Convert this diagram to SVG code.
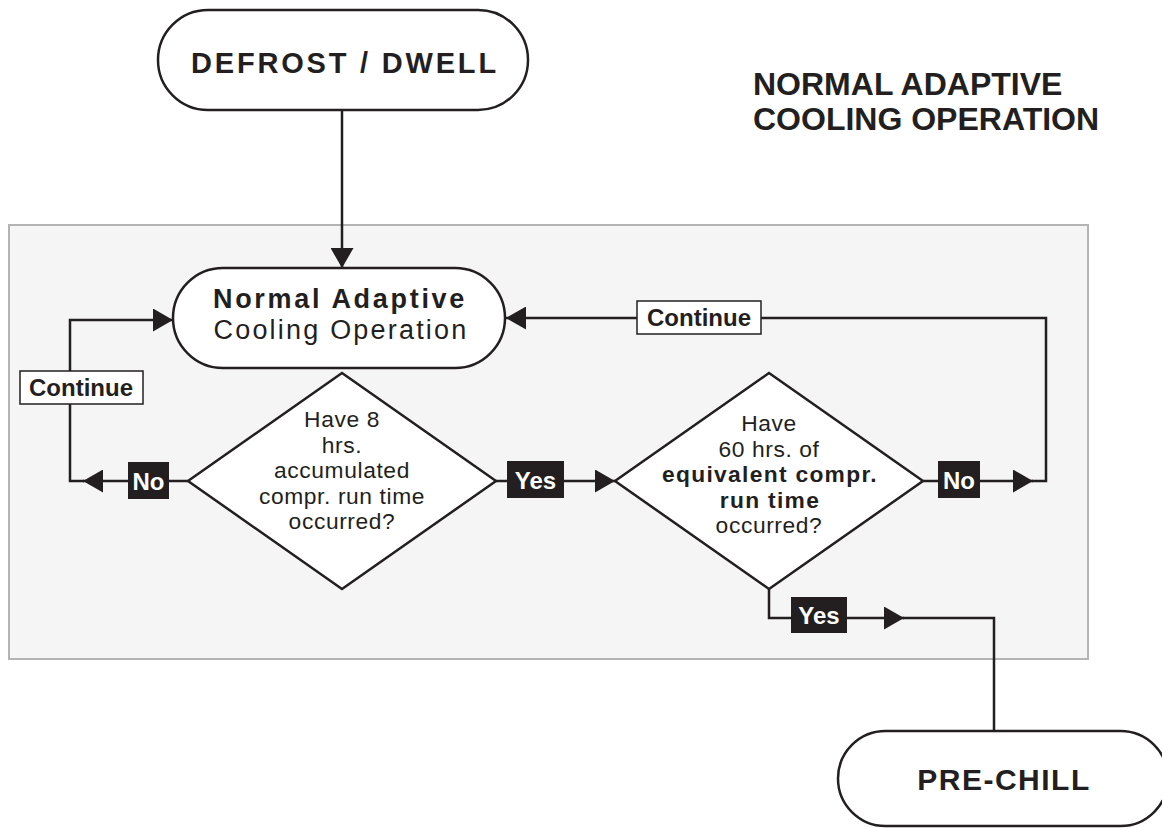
<svg xmlns="http://www.w3.org/2000/svg" width="1162" height="828" viewBox="0 0 1162 828">
<style>
  .shape{fill:#fff;stroke:#231f20;stroke-width:2.5}
  .ln{fill:none;stroke:#231f20;stroke-width:2.5}
  .t{font-family:"Liberation Sans",Arial,sans-serif;fill:#231f20;text-anchor:middle}
  .b{font-weight:bold}
  .q{font-size:22.8px;letter-spacing:0.6px}
  .qb{font-size:22.8px;font-weight:bold;letter-spacing:1.3px}
  .lbl{fill:#fff;stroke:#231f20;stroke-width:1.5}
  .tag{fill:#231f20}
  .tagt{font-family:"Liberation Sans",Arial,sans-serif;font-weight:bold;font-size:24px;fill:#fff;text-anchor:middle}
</style>
<defs>
  <marker id="arr" viewBox="0 0 20 23" refX="20" refY="11.5" markerWidth="20" markerHeight="23" markerUnits="userSpaceOnUse" orient="auto">
    <path d="M0,0 L20,11.5 L0,23 z" fill="#231f20"/>
  </marker>
</defs>
<rect id="panel" x="9" y="225" width="1079" height="434" fill="#f5f5f5" stroke="#b4b4b4" stroke-width="2"/>
<g id="title">
  <text class="t b" x="753" y="95" font-size="32" style="text-anchor:start">NORMAL ADAPTIVE</text>
  <text class="t b" x="753" y="130" font-size="32" style="text-anchor:start">COOLING OPERATION</text>
</g>
<g id="connectors">
  <path class="ln" d="M342,110 V268" marker-end="url(#arr)"/>
  <path class="ln" d="M188,481 H83" marker-end="url(#arr)"/>
  <path class="ln" d="M84,481 H70 V320 H173" marker-end="url(#arr)"/>
  <path class="ln" d="M496,481 H615" marker-end="url(#arr)"/>
  <path class="ln" d="M923,481 H1033" marker-end="url(#arr)"/>
  <path class="ln" d="M1032,481 H1046 V318 H506" marker-end="url(#arr)"/>
  <path class="ln" d="M769,589 V618 H904" marker-end="url(#arr)"/>
  <path class="ln" d="M903,618 H994 V731"/>
</g>
<g id="defrost">
  <rect class="shape" x="158" y="10" width="370" height="100" rx="50"/>
  <text class="t b" x="345" y="73" font-size="29" letter-spacing="2.8">DEFROST / DWELL</text>
</g>
<g id="normal">
  <rect class="shape" x="173" y="268" width="332" height="100" rx="50"/>
  <text class="t b" x="340" y="308" font-size="27" letter-spacing="2.7">Normal Adaptive</text>
  <text class="t" x="341" y="339" font-size="27" letter-spacing="2.2">Cooling Operation</text>
</g>
<g id="decision1">
  <polygon class="shape" points="342,373 496,481 342,589 188,481"/>
  <text class="t q" x="342" y="427">Have 8</text>
  <text class="t q" x="342" y="452.5">hrs.</text>
  <text class="t q" x="342" y="478">accumulated</text>
  <text class="t q" x="342" y="503.5">compr. run time</text>
  <text class="t q" x="342" y="529">occurred?</text>
</g>
<g id="decision2">
  <polygon class="shape" points="769,373 923,481 769,589 615,481"/>
  <text class="t q" x="769" y="431">Have</text>
  <text class="t q" x="769" y="456.5">60 hrs. of</text>
  <text class="t qb" x="770" y="482">equivalent compr.</text>
  <text class="t qb" x="770" y="507.5">run time</text>
  <text class="t q" x="769" y="533">occurred?</text>
</g>
<g id="prechill">
  <rect class="shape" x="838" y="731" width="330" height="95" rx="47.5"/>
  <text class="t b" x="1004" y="790" font-size="30" letter-spacing="1.5">PRE-CHILL</text>
</g>
<g id="labels">
  <g id="lbl-continue-left">
    <rect class="lbl" x="20" y="371" width="123" height="33"/>
    <text class="t b" x="81" y="396" font-size="24">Continue</text>
  </g>
  <g id="lbl-continue-top">
    <rect class="lbl" x="637" y="301" width="124" height="33"/>
    <text class="t b" x="699" y="326" font-size="24">Continue</text>
  </g>
  <g id="lbl-no-left">
    <rect class="tag" x="128" y="462" width="41" height="37"/>
    <text class="tagt" x="148.5" y="490">No</text>
  </g>
  <g id="lbl-yes-mid">
    <rect class="tag" x="507" y="461" width="57" height="37"/>
    <text class="tagt" x="535.5" y="489">Yes</text>
  </g>
  <g id="lbl-no-right">
    <rect class="tag" x="938" y="461" width="42" height="37"/>
    <text class="tagt" x="959" y="489">No</text>
  </g>
  <g id="lbl-yes-bottom">
    <rect class="tag" x="791" y="597" width="56" height="36"/>
    <text class="tagt" x="819" y="624">Yes</text>
  </g>
</g>
</svg>
